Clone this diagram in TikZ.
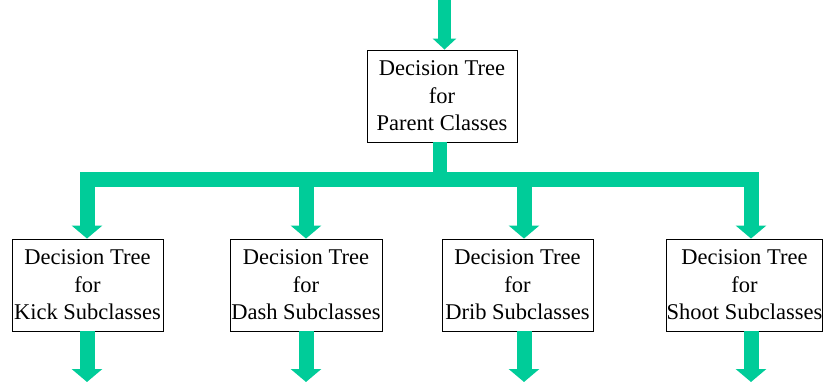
\documentclass[tikz,border=0pt]{standalone}
\usepackage{fontspec}
\setmainfont{Liberation Serif}
\usetikzlibrary{arrows.meta}
\definecolor{flowgreen}{RGB}{0,204,153}
\tikzset{
  box/.style={draw=black, line width=0.9pt, fill=white, inner sep=0pt, align=center,
    minimum height=92pt, font=\fontsize{22.5}{27.5}\selectfont},
  flow/.style={draw=flowgreen, line width=15pt, line join=miter},
  bighead/.tip={Triangle[width=30pt,length=13pt]},
  smallhead/.tip={Triangle[width=23pt,length=11pt]}
}
\begin{document}
\begin{tikzpicture}[x=1pt,y=1pt]
\useasboundingbox (0,0) rectangle (824,-385);
% boxes
\node[box, minimum width=150pt] (top) at (442,-96) {Decision Tree\\for\\Parent Classes};
\node[box, minimum width=151pt] (kick) at (87.5,-285) {Decision Tree\\for\\Kick Subclasses};
\node[box, minimum width=152pt] (dash) at (306,-285) {Decision Tree\\for\\Dash Subclasses};
\node[box, minimum width=151pt] (drib) at (517.5,-285) {Decision Tree\\for\\Drib Subclasses};
\node[box, minimum width=155pt] (shoot) at (744.5,-285) {Decision Tree\\for\\Shoot Subclasses};
% coordinates
\coordinate (tin) at (444.5,0);
\coordinate (tstem) at (440,-179);
\coordinate (ka) at (87,-179);
\coordinate (da) at (306,-179);
\coordinate (ra) at (524,-179);
\coordinate (sa) at (751,-179);
\coordinate (ke) at (87,-382);
\coordinate (de) at (306,-382);
\coordinate (re) at (524,-382);
\coordinate (se) at (751,-382);
% top input arrow
\draw[flow, line width=13pt, -{smallhead}] (tin) -- (tin |- top.north);
% stem
\draw[flow, line width=14pt] (top.south -| tstem) -- ([yshift=-7pt]tstem);
% bar with outer branches
\draw[flow, {bighead}-{bighead}] (ka |- kick.north) -- (ka) -- (sa) -- (sa |- shoot.north);
% inner branches
\draw[flow, -{bighead}] (da) -- (da |- dash.north);
\draw[flow, -{bighead}] (ra) -- (ra |- drib.north);
% outputs
\draw[flow, -{bighead}] (kick.south -| ke) -- (ke);
\draw[flow, -{bighead}] (dash.south -| de) -- (de);
\draw[flow, -{bighead}] (drib.south -| re) -- (re);
\draw[flow, -{bighead}] (shoot.south -| se) -- (se);
\end{tikzpicture}
\end{document}
